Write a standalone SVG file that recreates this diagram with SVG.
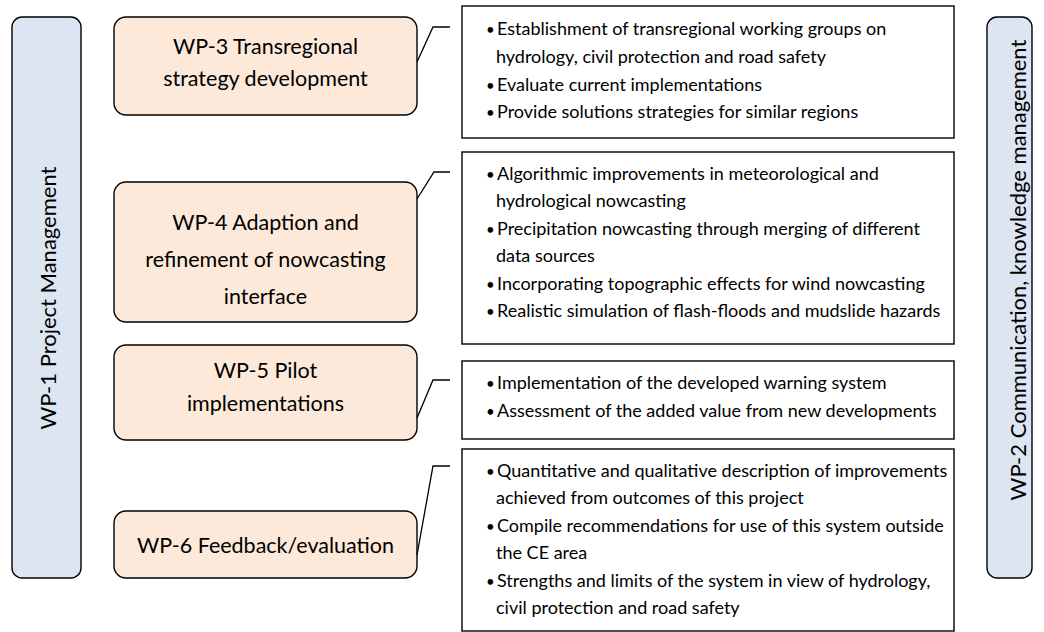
<svg xmlns="http://www.w3.org/2000/svg" width="1044" height="632" viewBox="0 0 1044 632">
<style>
.side{fill:#dce6f2;stroke:#000;stroke-width:1.4}
.wp{fill:#fde9d9;stroke:#000;stroke-width:1.4}
.box{fill:#fff;stroke:#000;stroke-width:1.4}
.lbl{font-family:Lato,"Liberation Sans",sans-serif;font-size:21.5px;fill:#000;text-anchor:middle}
.vl{font-family:Lato,"Liberation Sans",sans-serif;font-size:22px;fill:#000;text-anchor:middle}
.bt{font-family:Lato,"Liberation Sans",sans-serif;font-size:18px;fill:#000}
.bu{font-size:15px}
.conn{fill:none;stroke:#000;stroke-width:1.3}
</style>
<rect width="1044" height="632" fill="#fff"/>
<g id="wp1">
<rect class="side" x="12" y="17" width="69" height="561" rx="10"/>
<text class="vl" transform="translate(47,298) rotate(-90)" dominant-baseline="central">WP-1 Project Management</text>
</g>
<g id="wp2">
<rect class="side" x="987" y="17" width="45" height="561" rx="10"/>
<text class="vl" transform="translate(1017,270) rotate(-90)" dominant-baseline="central">WP-2 Communication, knowledge management</text>
</g>
<g id="wp3">
<rect class="wp" x="114" y="17" width="303" height="98" rx="12"/>
<text class="lbl" x="265.5" y="54">WP-3 Transregional</text>
<text class="lbl" x="265.5" y="86">strategy development</text>
</g>
<g id="wp4">
<rect class="wp" x="114" y="182" width="303" height="140" rx="12"/>
<text class="lbl" x="265.5" y="230">WP-4 Adaption and</text>
<text class="lbl" x="265.5" y="267">refinement of nowcasting</text>
<text class="lbl" x="265.5" y="304">interface</text>
</g>
<g id="wp5">
<rect class="wp" x="114" y="345" width="303" height="95" rx="12"/>
<text class="lbl" x="265.5" y="378">WP-5 Pilot</text>
<text class="lbl" x="265.5" y="411">implementations</text>
</g>
<g id="wp6">
<rect class="wp" x="114" y="511" width="303" height="67" rx="12"/>
<text class="lbl" x="265.5" y="553">WP-6 Feedback/evaluation</text>
</g>
<g id="box3">
<rect class="box" x="462" y="6" width="492" height="132"/>
<text class="bt" y="35"><tspan class="bu" x="486">•</tspan><tspan x="497">Establishment of transregional working groups on</tspan></text>
<text class="bt" x="496" y="63">hydrology, civil protection and road safety</text>
<text class="bt" y="91"><tspan class="bu" x="486">•</tspan><tspan x="497">Evaluate current implementations</tspan></text>
<text class="bt" y="118"><tspan class="bu" x="486">•</tspan><tspan x="497">Provide solutions strategies for similar regions</tspan></text>
</g>
<g id="box4">
<rect class="box" x="462" y="152" width="492" height="192"/>
<text class="bt" y="180"><tspan class="bu" x="486">•</tspan><tspan x="497">Algorithmic improvements in meteorological and</tspan></text>
<text class="bt" x="496" y="207">hydrological nowcasting</text>
<text class="bt" y="235"><tspan class="bu" x="486">•</tspan><tspan x="497">Precipitation nowcasting through merging of different</tspan></text>
<text class="bt" x="496" y="262">data sources</text>
<text class="bt" y="290"><tspan class="bu" x="486">•</tspan><tspan x="497">Incorporating topographic effects for wind nowcasting</tspan></text>
<text class="bt" y="317"><tspan class="bu" x="486">•</tspan><tspan x="497">Realistic simulation of flash-floods and mudslide hazards</tspan></text>
</g>
<g id="box5">
<rect class="box" x="462" y="361" width="492" height="78"/>
<text class="bt" y="389"><tspan class="bu" x="486">•</tspan><tspan x="497">Implementation of the developed warning system</tspan></text>
<text class="bt" y="417"><tspan class="bu" x="486">•</tspan><tspan x="497">Assessment of the added value from new developments</tspan></text>
</g>
<g id="box6">
<rect class="box" x="462" y="449" width="492" height="182"/>
<text class="bt" y="477"><tspan class="bu" x="486">•</tspan><tspan x="497">Quantitative and qualitative description of improvements</tspan></text>
<text class="bt" x="496" y="504">achieved from outcomes of this project</text>
<text class="bt" y="532"><tspan class="bu" x="486">•</tspan><tspan x="497">Compile recommendations for use of this system outside</tspan></text>
<text class="bt" x="496" y="559">the CE area</text>
<text class="bt" y="587"><tspan class="bu" x="486">•</tspan><tspan x="497">Strengths and limits of the system in view of hydrology,</tspan></text>
<text class="bt" x="496" y="614">civil protection and road safety</text>
</g>
<g id="connectors">
<path class="conn" d="M417,62 L433,27 L450,27"/>
<path class="conn" d="M417,199 L434,172 L450,172"/>
<path class="conn" d="M417,418 L433,380 L450,380"/>
<path class="conn" d="M417,555 L433,466 L450,466"/>
</g>
</svg>
